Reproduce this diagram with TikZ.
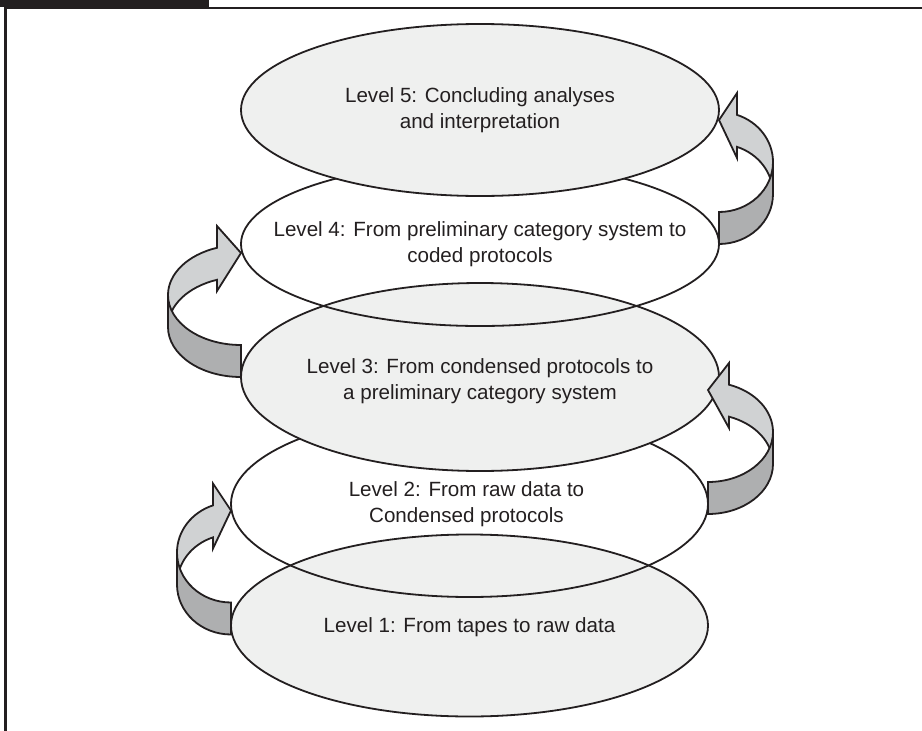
\documentclass[tikz,border=0pt]{standalone}
\usepackage{fontspec}
\setsansfont{Liberation Sans}
\definecolor{levelgray}{RGB}{239,240,239}
\definecolor{ribbonlight}{RGB}{208,210,211}
\definecolor{ribbondark}{RGB}{174,175,176}
\definecolor{inkblack}{RGB}{35,31,32}
\tikzset{every picture/.style={/utils/exec={\sffamily}}}
\usetikzlibrary{calc}
\usetikzlibrary{shapes.geometric}
\tikzset{
  levelell/.style={draw=inkblack, line width=1.8pt, ellipse, inner sep=0pt, outer sep=0pt},
  leveltxt/.style={align=center, text=inkblack, inner sep=0pt, font=\fontsize{20.6}{26.5}\selectfont},
  ribbon front/.style={draw=inkblack, fill=ribbonlight, line width=1.8pt},
  ribbon back/.style={draw=inkblack, fill=ribbondark, line width=1.8pt},
}

\begin{document}
\begin{tikzpicture}[x=1pt, y=1pt, yscale=-1]
  \useasboundingbox (0,0) rectangle (922,731);

  % frame
  \fill[inkblack] (0,0) rectangle (209,6.5);
  \draw[inkblack, line width=2pt] (4,8) -- (922,8);
  \draw[inkblack, line width=2.4pt] (5.3,7) -- (5.3,731);

  \node[levelell, fill=levelgray, minimum width=477pt, minimum height=182pt] (l1) at (469.5,625.5) {};
  \node[levelell, minimum width=477pt, minimum height=186pt] (l2) at (469.5,504) {};
  \node[levelell, fill=levelgray, minimum width=478pt, minimum height=188pt] (l3) at (480,377) {};
  \node[levelell, minimum width=478pt, minimum height=164pt] (l4) at (480,244) {};
  \node[levelell, fill=levelgray, minimum width=478pt, minimum height=172pt] (l5) at (480,110) {};

  \node[leveltxt, yshift=-2pt] (t1) at (l1) {Level 1: From tapes to raw data};
  \node[leveltxt, xshift=-3pt] (t2) at (l2) {Level 2: From raw data to\\Condensed protocols};
  \node[leveltxt, yshift=-4pt] (t3) at (l3) {Level 3: From condensed protocols to\\a preliminary category system};
  \node[leveltxt] (t4) at (l4) {Level 4: From preliminary category system to\\coded protocols};
  \node[leveltxt] (t5) at (l5) {Level 5: Concluding analyses\\and interpretation};

  % curved ribbon arrows, tail at one level, tip at the next
  \foreach \tail/\sx/\rx/\ah/\dy in {l1.west/1/54/18/9, l3.west/1/73/24/0, l2.east/-1/65/21/10, l4.east/-1/54/18/0}{
    \pgfmathsetmacro{\ang}{180+acos(\ah/\rx)}
    \pgfmathsetmacro{\jy}{50*sin(\ang)}
    \begin{scope}[shift={($(\tail)+(0,\dy)$)}, xscale=\sx]
      \draw[ribbon front] (-\rx,-82) arc[start angle=180, end angle=\ang, x radius=\rx, y radius=50]
        -- (-\ah,-151) -- (0,-124) -- (-\ah,-86) -- (-\ah,{-50+\jy})
        arc[start angle=\ang, end angle=180, x radius=\rx, y radius=50] -- cycle;
      \draw[ribbon back] (0,0) arc[start angle=90, end angle=180, x radius=\rx, y radius=50]
        -- (-\rx,-82) arc[start angle=180, end angle=90, x radius=\rx, y radius=50] -- cycle;
    \end{scope}
  }
\end{tikzpicture}
\end{document}
